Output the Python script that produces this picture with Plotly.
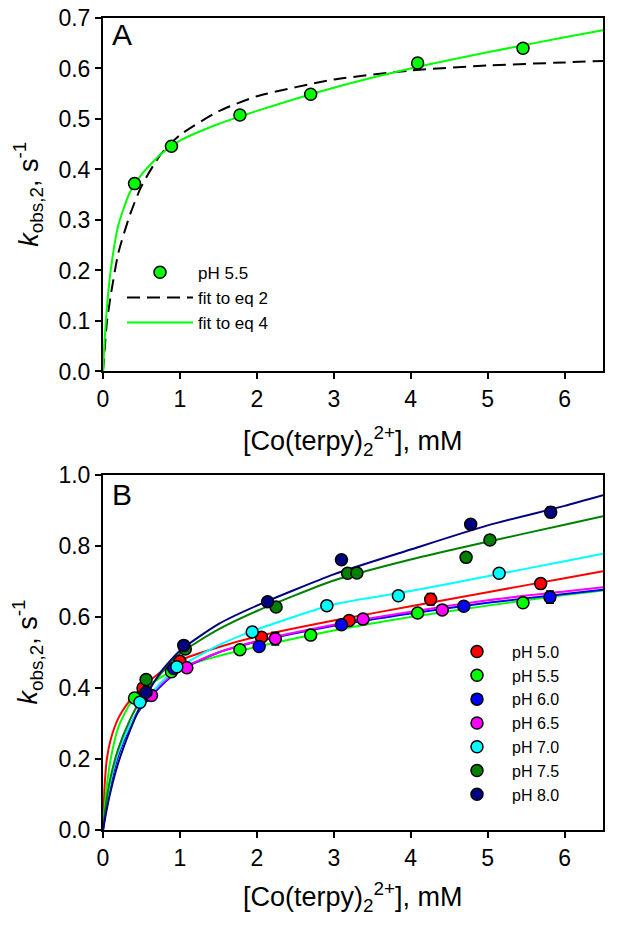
import plotly.graph_objects as go

# ---------------- Panel A data (pH 5.5) ----------------
a_x = [0.41, 0.89, 1.78, 2.70, 4.09, 5.46]
a_y = [0.372, 0.446, 0.508, 0.549, 0.611, 0.640]
a_err = [0.008, 0.007, 0.007, 0.007, 0.009, 0.009]

# fit curves
fit_x = [0, 0.02, 0.05, 0.1, 0.2, 0.35, 0.5, 0.75, 1.0, 1.5, 2.0, 3.0, 4.0, 5.0, 6.0, 6.5]
a_fit2 = [0, 0.040, 0.097, 0.150, 0.235, 0.310, 0.367, 0.430, 0.468, 0.515, 0.545, 0.578, 0.596, 0.606, 0.612, 0.615]
a_fit4 = [0, 0.060, 0.125, 0.200, 0.290, 0.355, 0.390, 0.430, 0.457, 0.490, 0.516, 0.562, 0.600, 0.632, 0.662, 0.676]

# ---------------- Panel B data ----------------
ph_labels = ["pH 5.0", "pH 5.5", "pH 6.0", "pH 6.5", "pH 7.0", "pH 7.5", "pH 8.0"]
ph_colors = ["#ff0000", "#00ff00", "#0000ff", "#ff00ff", "#00ffff", "#008000", "#000080"]

b_x = [
    [0.52, 1.00, 2.06, 3.20, 4.26, 5.69],
    [0.41, 0.89, 1.78, 2.70, 4.09, 5.46],
    [0.57, 0.92, 2.03, 3.10, 4.69, 5.81],
    [0.63, 1.09, 2.24, 3.38, 4.41],
    [0.48, 0.96, 1.94, 2.91, 3.84, 5.15],
    [0.56, 1.07, 2.25, 3.18, 3.30, 4.72, 5.03],
    [0.56, 1.05, 2.14, 3.10, 4.78, 5.82],
]
b_y = [
    [0.400, 0.475, 0.543, 0.590, 0.650, 0.694],
    [0.372, 0.446, 0.508, 0.549, 0.611, 0.640],
    [0.380, 0.455, 0.517, 0.578, 0.630, 0.656],
    [0.379, 0.457, 0.539, 0.594, 0.620],
    [0.360, 0.460, 0.558, 0.632, 0.660, 0.723],
    [0.424, 0.510, 0.628, 0.723, 0.724, 0.768, 0.817],
    [0.388, 0.520, 0.643, 0.761, 0.861, 0.895],
]
b_err = [
    [0.008, 0.008, 0.008, 0.008, 0.016, 0.009],
    [0.008, 0.007, 0.007, 0.007, 0.009, 0.009],
    [0.008, 0.008, 0.008, 0.008, 0.008, 0.017],
    [0.008, 0.008, 0.018, 0.008, 0.008],
    [0.008, 0.008, 0.008, 0.008, 0.008, 0.008],
    [0.008, 0.008, 0.012, 0.008, 0.008, 0.013, 0.008],
    [0.008, 0.008, 0.008, 0.008, 0.009, 0.015],
]
b_fit = [
    [0, 0.120, 0.200, 0.255, 0.315, 0.365, 0.400, 0.445, 0.478, 0.515, 0.545, 0.590, 0.630, 0.670, 0.709, 0.729],
    [0, 0.060, 0.125, 0.200, 0.290, 0.355, 0.390, 0.430, 0.457, 0.490, 0.516, 0.562, 0.600, 0.632, 0.662, 0.675],
    [0, 0.030, 0.070, 0.130, 0.210, 0.290, 0.345, 0.405, 0.450, 0.500, 0.530, 0.575, 0.610, 0.640, 0.665, 0.677],
    [0, 0.035, 0.080, 0.140, 0.220, 0.295, 0.350, 0.410, 0.452, 0.500, 0.532, 0.578, 0.615, 0.647, 0.672, 0.684],
    [0, 0.030, 0.075, 0.140, 0.220, 0.295, 0.350, 0.415, 0.460, 0.520, 0.565, 0.635, 0.673, 0.715, 0.757, 0.778],
    [0, 0.040, 0.090, 0.150, 0.230, 0.310, 0.370, 0.440, 0.497, 0.565, 0.617, 0.703, 0.762, 0.812, 0.860, 0.884],
    [0, 0.025, 0.060, 0.110, 0.190, 0.280, 0.355, 0.445, 0.505, 0.580, 0.632, 0.720, 0.790, 0.858, 0.913, 0.943],
]

FONT = "Arial, Liberation Sans, sans-serif"
fig = go.Figure()

# ---- Panel A ----
fig.add_trace(go.Scatter(x=fit_x, y=a_fit2, mode="lines", name="fit to eq 2",
                         line=dict(color="black", width=2, dash="13px,7px", shape="spline", smoothing=0.6),
                         xaxis="x", yaxis="y", legend="legend", legendrank=2))
fig.add_trace(go.Scatter(x=fit_x, y=a_fit4, mode="lines", name="fit to eq 4",
                         line=dict(color="#00ff00", width=2, shape="spline", smoothing=0.6),
                         xaxis="x", yaxis="y", legend="legend", legendrank=3))
fig.add_trace(go.Scatter(x=a_x, y=a_y, mode="markers", name="pH 5.5",
                         marker=dict(color="#00ff00", size=12, line=dict(color="black", width=1.5)),
                         error_y=dict(type="data", array=a_err, color="black", thickness=1.5, width=4),
                         xaxis="x", yaxis="y", legend="legend", legendrank=1))

# ---- Panel B ----
for i in range(len(ph_labels)):
    fig.add_trace(go.Scatter(x=fit_x, y=b_fit[i], mode="lines", showlegend=False,
                             line=dict(color=ph_colors[i], width=2, shape="spline", smoothing=0.6),
                             xaxis="x2", yaxis="y2", hoverinfo="skip"))
for i in range(len(ph_labels)):
    fig.add_trace(go.Scatter(x=b_x[i], y=b_y[i], mode="markers", name=ph_labels[i],
                             marker=dict(color=ph_colors[i], size=12, line=dict(color="black", width=1.5)),
                             error_y=dict(type="data", array=b_err[i], color="black", thickness=1.5, width=4),
                             xaxis="x2", yaxis="y2", legend="legend2", legendrank=i + 1))

axis_common = dict(showline=True, linecolor="black", linewidth=2, mirror=True,
                   ticks="outside", ticklen=6, tickwidth=1.5, tickcolor="black",
                   showgrid=False, zeroline=False, automargin=False, ticklabeloverflow="allow",
                   tickfont=dict(family=FONT, size=23, color="black"))

# margins compensate for the 8px default page margin around the plot div
fig.update_layout(
    width=620, height=927,
    margin=dict(l=95, r=25, t=10, b=105, autoexpand=False),
    paper_bgcolor="white", plot_bgcolor="white",
    font=dict(family=FONT, color="black"),
    xaxis=dict(range=[0, 6.5], dtick=1, tick0=0, anchor="y", domain=[0, 1], **axis_common),
    yaxis=dict(range=[0, 0.7], dtick=0.1, tickformat=".1f", anchor="x", domain=[0.5647, 1], **axis_common),
    xaxis2=dict(range=[0, 6.5], dtick=1, tick0=0, anchor="y2", domain=[0, 1], **axis_common),
    yaxis2=dict(range=[0, 1.0], dtick=0.2, tickformat=".1f", anchor="x2", domain=[0, 0.4372], **axis_common),
    legend=dict(x=0.038, y=0.7084, xanchor="left", yanchor="top", bgcolor="rgba(0,0,0,0)",
                font=dict(family=FONT, size=17), itemwidth=66, tracegroupgap=0),
    legend2=dict(x=0.678, y=0.2406, xanchor="left", yanchor="top", bgcolor="rgba(0,0,0,0)",
                 font=dict(family=FONT, size=16), itemwidth=60, tracegroupgap=0),
    showlegend=True,
)

xtitle = "[Co(terpy)<sub>2</sub><sup>2+</sup>], mM"
ytitle = "<i>k</i><sub>obs,2</sub>, s<sup>-1</sup>"
annos = [
    dict(text="A", xref="x domain", yref="y domain", x=0.014, y=1.006, xanchor="left", yanchor="top",
         showarrow=False, font=dict(family=FONT, size=30)),
    dict(text="B", xref="x2 domain", yref="y2 domain", x=0.014, y=0.997, xanchor="left", yanchor="top",
         showarrow=False, font=dict(family=FONT, size=30)),
    dict(text=xtitle, xref="paper", yref="paper", x=0.5, y=0.4785, xanchor="center", yanchor="middle",
         showarrow=False, font=dict(family=FONT, size=27)),
    dict(text=xtitle, xref="paper", yref="paper", x=0.5, y=-0.0831, xanchor="center", yanchor="middle",
         showarrow=False, font=dict(family=FONT, size=27)),
    dict(text=ytitle, xref="paper", yref="paper", x=-0.15, y=0.7823, xanchor="center", yanchor="middle",
         textangle=-90, showarrow=False, font=dict(family=FONT, size=27)),
    dict(text=ytitle, xref="paper", yref="paper", x=-0.15, y=0.2186, xanchor="center", yanchor="middle",
         textangle=-90, showarrow=False, font=dict(family=FONT, size=27)),
]
fig.update_layout(annotations=annos)

fig.write_html("out.html")
